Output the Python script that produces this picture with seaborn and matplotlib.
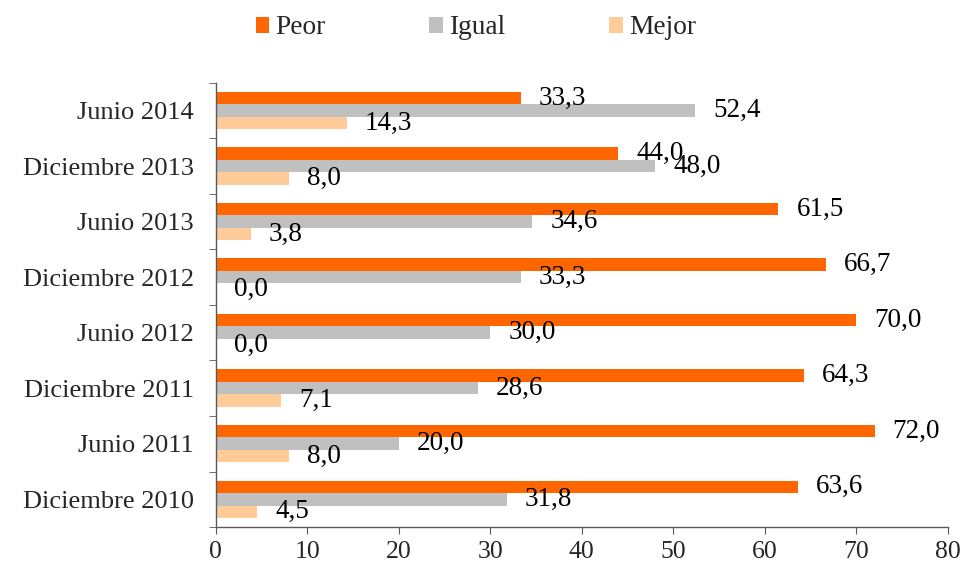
import matplotlib

matplotlib.use("Agg")
import matplotlib.pyplot as plt
import pandas as pd
import seaborn as sns
from matplotlib.ticker import FixedLocator

periodos = [
    "Junio 2014",
    "Diciembre 2013",
    "Junio 2013",
    "Diciembre 2012",
    "Junio 2012",
    "Diciembre 2011",
    "Junio 2011",
    "Diciembre 2010",
]
peor = [33.3, 44.0, 61.5, 66.7, 70.0, 64.3, 72.0, 63.6]
igual = [52.4, 48.0, 34.6, 33.3, 30.0, 28.6, 20.0, 31.8]
mejor = [14.3, 8.0, 3.8, 0.0, 0.0, 7.1, 8.0, 4.5]
series = ["Peor", "Igual", "Mejor"]
colores = ["#FF6600", "#C0C0C0", "#FFCC99"]

df = pd.DataFrame({"periodo": periodos, "Peor": peor, "Igual": igual, "Mejor": mejor})
df_long = df.melt(id_vars="periodo", var_name="serie", value_name="valor")

sns.set_style("white")
plt.rcParams["font.family"] = ["Liberation Serif", "DejaVu Serif"]

fig = plt.figure(figsize=(9.77, 5.71), dpi=100)
ax = fig.add_axes([0.221, 0.077, 0.749, 0.778])

sns.barplot(
    data=df_long,
    y="periodo",
    x="valor",
    hue="serie",
    order=periodos,
    hue_order=series,
    palette=colores,
    orient="h",
    width=0.675,
    gap=0,
    saturation=1,
    linewidth=0,
    ax=ax,
)

for cont in ax.containers:
    etiquetas = [f"{b.get_width():.1f}".replace(".", ",") for b in cont]
    ax.bar_label(cont, labels=etiquetas, padding=13, fontsize=19.5, color="black")

ax.set_xlim(0, 80)
ax.set_ylim(len(periodos) - 0.5, -0.5)
ax.set_xticks(range(0, 81, 10))
ax.set_xlabel("")
ax.set_ylabel("")
ax.tick_params(axis="x", labelsize=18.5, length=5, direction="out", color="#595959", bottom=True, pad=5)
ax.tick_params(axis="y", which="major", labelsize=19, length=0, pad=16)
ax.yaxis.set_minor_locator(FixedLocator([i - 0.5 for i in range(len(periodos) + 1)]))
ax.tick_params(axis="y", which="minor", length=5, direction="out", color="#595959", left=True)

for s in ["top", "right"]:
    ax.spines[s].set_visible(False)
for s in ["left", "bottom"]:
    ax.spines[s].set_color("#595959")
    ax.spines[s].set_linewidth(1)

handles, labels = ax.get_legend_handles_labels()
ax.get_legend().remove()
fig.legend(
    handles,
    labels,
    loc="center",
    bbox_to_anchor=(0.487, 0.951),
    ncol=3,
    frameon=False,
    fontsize=19.7,
    handlelength=0.5,
    handleheight=0.5,
    handletextpad=0.22,
    columnspacing=3.8,
)

fig.savefig("out.png", dpi=100)
